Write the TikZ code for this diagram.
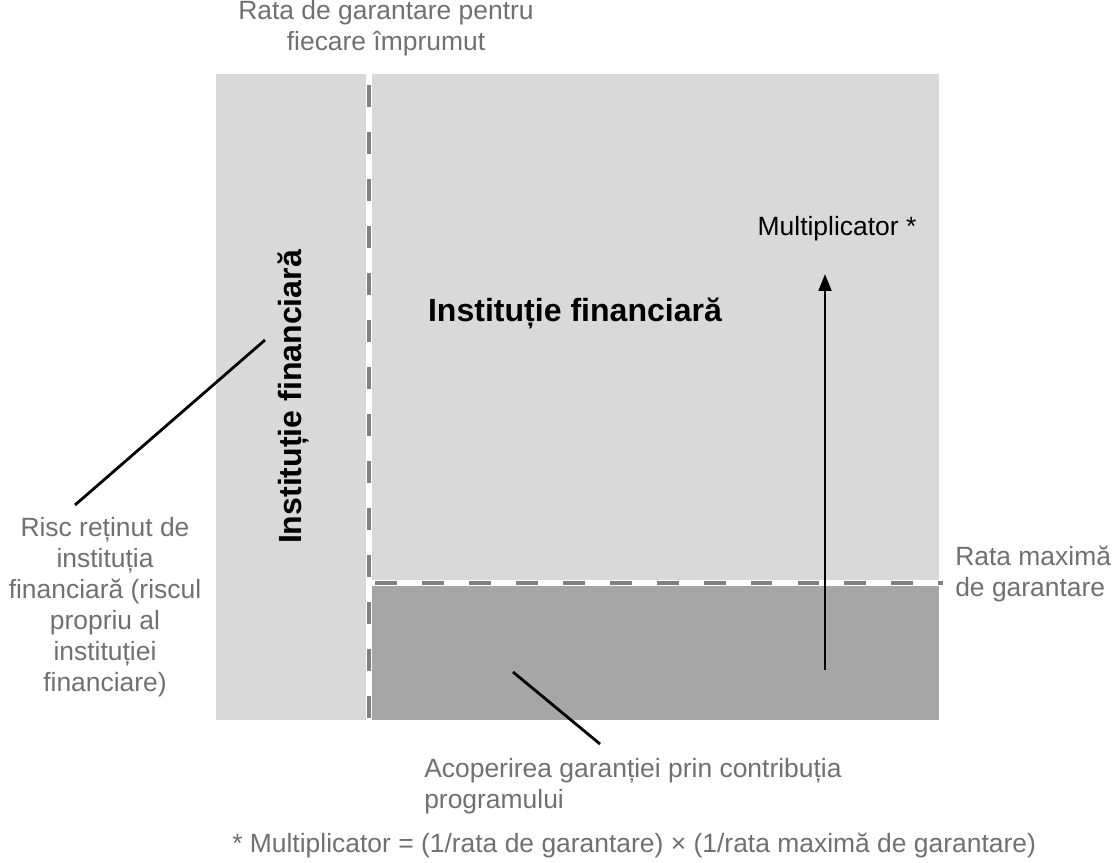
\documentclass[tikz,border=0pt]{standalone}
\usepackage{fontspec}
\setmainfont{Liberation Sans}
\usetikzlibrary{arrows.meta,positioning}
\definecolor{lightbox}{RGB}{217,217,217}
\definecolor{darkbox}{RGB}{166,166,166}
\definecolor{dashgray}{RGB}{128,128,128}
\definecolor{labelgray}{RGB}{112,112,112}

\begin{document}
\begin{tikzpicture}[
  x=0.025cm, y=-0.025cm,
  note/.style={text=labelgray, font=\fontsize{18.8}{22}\selectfont,
    align=center, inner sep=0pt},
  heading/.style={font=\fontsize{22.8}{26}\selectfont\bfseries, inner sep=0pt},
  gapline/.style={white, line width=4.8pt},
  dashline/.style={dashgray, line width=3.3pt, dash pattern=on 15.6pt off 17.8pt},
  leader/.style={black, line width=2pt},
  arr/.style={-{Triangle[length=12pt,width=9pt]}, black, line width=2pt}
]
  \useasboundingbox (0,0) rectangle (1112,862);

  %% areas
  \fill[lightbox] (216,74) rectangle (939,720);
  \fill[darkbox] (369,583) rectangle (939,720);

  %% limits between the areas
  \draw[gapline] (369,72) -- (369,722);
  \draw[gapline] (369,583) -- (943,583);
  \draw[dashline, dash phase=-8pt] (369,74) -- (369,720);
  \draw[dashline, dash phase=-2pt] (372,583) -- (943,583);

  %% texts
  \node[note] (rate) at (386,28) {Rata de garantare pentru\\fiecare împrumut};
  \node[heading, rotate=90] (ownrisk) at (293,397) {Instituție financiară};
  \node[heading] (lender) at (575,313) {Instituție financiară};
  \node[font=\fontsize{18.8}{22}\selectfont, inner sep=0pt] (mult) at (837,229)
    {Multiplicator *};
  \node[note] (risc) at (105,607)
    {Risc reținut de\\instituția\\financiară (riscul\\propriu al\\instituției\\financiare)};
  \node[note, anchor=west, align=left] (maxrate) at (955,574)
    {Rata maximă\\de garantare};
  \node[note, anchor=west, align=left] (cover) at (424,786)
    {Acoperirea garanției prin contribuția\\programului};
  \node[note, anchor=west] (formula) at (232,845)
    {* Multiplicator = (1/rata de garantare) × (1/rata maximă de garantare)};

  %% leaders and arrow
  \coordinate (riscend) at (75,505);
  \coordinate (riscpt) at (265,340);
  \coordinate (coverend) at (600,744);
  \coordinate (coverpt) at (513,672);
  \coordinate (multfoot) at (825,670);
  \coordinate (multtip) at (825,274);
  \draw[leader] (riscend) -- (riscpt);
  \draw[leader] (coverend) -- (coverpt);
  \draw[arr] (multfoot) -- (multtip);
\end{tikzpicture}
\end{document}
